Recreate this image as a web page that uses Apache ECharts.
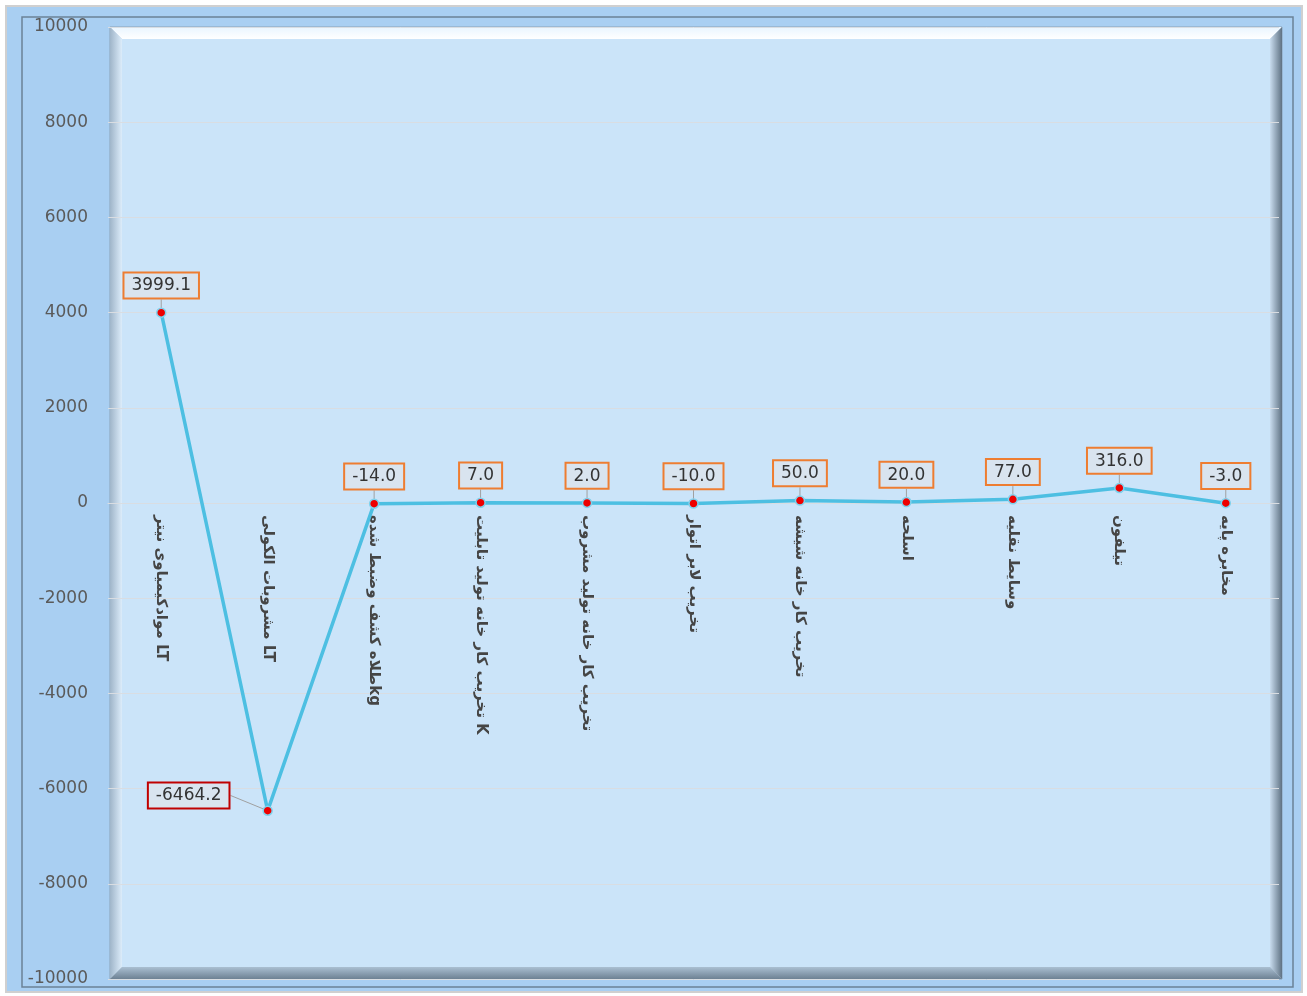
<!DOCTYPE html>
<html><head><meta charset="utf-8">
<script src="https://cdn.jsdelivr.net/npm/echarts@6/dist/echarts.min.js"></script>
<style>html,body{margin:0;padding:0;background:#fff;}#c{width:1307px;height:996px;}</style>
</head><body><div id="c"></div>
<script>
const categories = [
  'موادکیمیاوی نیتر LT',
  'مشروبات الکولی LT',
  'طلاه کشف وضبط شدهkg',
  'تخریب کار خانه تولید تابلیت K',
  'تخریب کار خانه تولید مشروب',
  'تخریب لابر اتوار',
  'تخریب کار خانه شیشه',
  'اسلحه',
  'وسایط نقلیه',
  'تیلفون',
  'مخابره پایه'
];
const values = [3999.1, -6464.2, -14.0, 7.0, 2.0, -10.0, 50.0, 20.0, 77.0, 316.0, -3.0];
const yTicks = { min: -10000, max: 10000, interval: 2000 };

const chart = echarts.init(document.getElementById('c'));
const PL = 110, PT = 27, PR = 1282, PB = 979;
const GT = 27, GB = 17, H = 996;
const grad = (x0,y0,x1,y1,stops)=>new echarts.graphic.LinearGradient(x0,y0,x1,y1,stops.map((c,i)=>({offset:i/(stops.length-1),color:c})));
// distance from the grid bottom to the zero line, via the y scale
const zeroOffset = (H - GT - GB) * (0 - yTicks.min) / (yTicks.max - yTicks.min);
chart.setOption({
  animation: false,
  graphic: [
    {type:'rect', z:-10, silent:true, shape:{x:6,y:6,width:1296,height:986}, style:{fill:'#a9cff2', stroke:'#d0d0d0', lineWidth:2}},
    {type:'rect', z:-9, silent:true, shape:{x:22,y:17,width:1271,height:970}, style:{fill:'none', stroke:'#6b8297', lineWidth:1.5}},
    {type:'rect', z:-8, silent:true, shape:{x:PL,y:PT,width:PR-PL,height:PB-PT}, style:{fill:'#b7cde0', stroke:'#8aa2b8', lineWidth:1}},
    {type:'polygon', z:-7, silent:true, shape:{points:[[PL,PT],[PR,PT],[PR-12,PT+12],[PL+12,PT+12]]}, style:{fill:grad(0,0,0,1,['#e9f5ff','#ffffff'])}},
    {type:'polygon', z:-7, silent:true, shape:{points:[[PL,PT],[PL+12,PT+12],[PL+12,PB-12],[PL,PB]]}, style:{fill:grad(0,0,1,0,['#9fb5c9','#dcecfa'])}},
    {type:'polygon', z:-7, silent:true, shape:{points:[[PR,PT],[PR,PB],[PR-12,PB-12],[PR-12,PT+12]]}, style:{fill:grad(0,0,1,0,['#c8dcee','#5f7283'])}},
    {type:'polygon', z:-7, silent:true, shape:{points:[[PL,PB],[PR,PB],[PR-12,PB-12],[PL+12,PB-12]]}, style:{fill:grad(0,0,0,1,['#aabfd2','#6d8193'])}},
    {type:'rect', z:-6, silent:true, shape:{x:PL+12,y:PT+12,width:PR-PL-24,height:PB-PT-24}, style:{fill:'#cbe4f9'}}
  ],
  grid: {left: 108, right: 28, top: GT, bottom: GB, containLabel: false, outerBoundsMode: 'none'},
  xAxis: {
    type: 'category', data: categories, boundaryGap: true,
    offset: -zeroOffset,
    axisLine: {show: true, onZero: false, lineStyle: {color: '#d9dde2', width: 1}}, axisTick: {show: false},
    axisLabel: {rotate: -90, margin: 12, interval: 0, hideOverlap: false, fontFamily: 'DejaVu Sans', fontWeight: 'bold', fontSize: 15, color: '#454545'}
  },
  yAxis: {
    type: 'value', min: yTicks.min, max: yTicks.max, interval: yTicks.interval,
    axisLine: {show: false}, axisTick: {show: false},
    axisLabel: {fontFamily: 'DejaVu Sans', fontSize: 17, color: '#5a5a5a', margin: 20, formatter: v => String(v)},
    splitLine: {lineStyle: {color: '#d9dde2', width: 1}}
  },
  series: [{
    type: 'line',
    symbol: 'circle', symbolSize: 9,
    lineStyle: {color: '#4dbfe2', width: 3.5},
    itemStyle: {color: '#ee0000', borderColor: '#7fd3ee', borderWidth: 1.5},
    label: {
      show: true, position: 'top', distance: 10,
      formatter: p => p.value.toFixed(1),
      fontFamily: 'DejaVu Sans', fontSize: 17, color: '#333',
      backgroundColor: '#d9e4ef', borderColor: '#ee7d31', borderWidth: 2,
      padding: [4, 7, 3, 7]
    },
    labelLayout: function (p) {
      if (p.dataIndex === 1) return {dx: -79, dy: 12};
      return {};
    },
    labelLine: {show: true, lineStyle: {color: '#a0a0a0', width: 1}},
    data: values.map((v, i) => i === 1 ? {value: v, label: {borderColor: '#c00000'}} : v)
  }]
});
</script></body></html>
